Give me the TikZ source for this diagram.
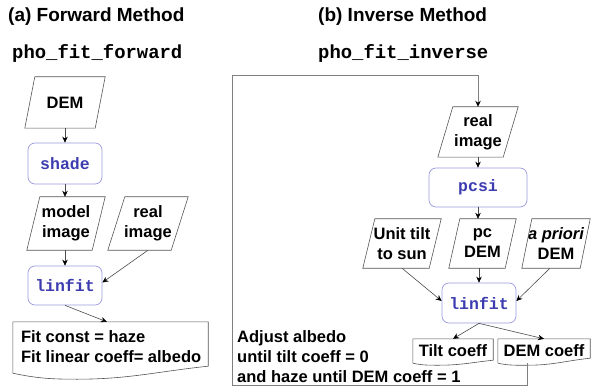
\documentclass[tikz,border=0pt]{standalone}
\usepackage{fontspec}
\setmainfont{Liberation Sans}
\setmonofont{Liberation Mono}
\usetikzlibrary{arrows.meta,calc}
\definecolor{procblue}{HTML}{3C3CB0}
\definecolor{boxblue}{HTML}{9A9AE0}
\definecolor{shapegray}{HTML}{555555}
\definecolor{loopgray}{HTML}{808080}
\newcommand\pgram[2]{\draw[shapeline] ($(#1.north west)+(#2,0)$) -- (#1.north east) -- ($(#1.south east)+(-#2,0)$) -- (#1.south west) -- cycle;}
\newcommand\docshape[3]{\draw[shapeline] (#1.south west) -- (#1.north west) -- (#1.north east) -- ($(#1.south east)+(0,-#2)$) to[out=186,in=0] ($(#1.south west)!0.33!(#1.south east)+(0,#3)$) to[out=180,in=-12] (#1.south west);}
\tikzset{
  txt/.style={font=\bfseries\fontsize{16.5}{20}\selectfont, align=center, inner sep=0pt},
  iobox/.style={txt, minimum width=#1},
  procbox/.style={draw=boxblue, line width=0.7pt, rounded corners=7pt, text=procblue,
     font=\ttfamily\bfseries\fontsize{16.5}{20}\selectfont, inner sep=0pt, minimum height=40pt, minimum width=#1},
  shapeline/.style={draw=shapegray, line width=0.6pt},
  arr/.style={draw=black!70, line width=0.6pt, -{Stealth[length=6pt,width=5.5pt,color=black]}},
  loopline/.style={draw=loopgray, line width=1pt, -{Stealth[length=6pt,width=5.5pt,color=black]}},
  title/.style={font=\bfseries\fontsize{19}{22}\selectfont, inner sep=0pt, anchor=west},
  fname/.style={font=\ttfamily\bfseries\fontsize{18.9}{22}\selectfont, inner sep=0pt, anchor=west},
  doctext/.style={font=\bfseries\fontsize{16.5}{20}\selectfont, align=left, inner sep=0pt}
}
\begin{document}
\begin{tikzpicture}[x=1pt,y=-1pt]
\useasboundingbox (0,0) rectangle (591,387);
% titles
\node[title] (ta) at (8,17) {(a) Forward Method};
\node[title] (tb) at (318,17) {(b) Inverse Method};
\node[fname] (fa) at (12,53) {pho\_fit\_forward};
\node[fname] (fb) at (318,53) {pho\_fit\_inverse};
% ---------- forward ----------
\node[iobox=80pt, minimum height=51pt] (dem) at (65,102.5) {DEM};
\pgram{dem}{10}
\node[procbox=74pt, minimum height=41pt] (shade) at (65,163.5) {shade};
\node[iobox=78pt, minimum height=53pt] (model) at (66,223.5) {model\\image};
\pgram{model}{13}
\node[iobox=80pt, minimum height=53pt] (realf) at (148,223.5) {real\\image};
\pgram{realf}{17}
\node[procbox=74pt, minimum height=39pt] (linfitf) at (65,285.5) {linfit};
\node[minimum width=195pt, minimum height=51pt, inner sep=0pt] (fitdoc) at (110.5,347.5) {};
\node[doctext, anchor=west] (fittext) at ($(fitdoc.west)+(8,-0.5)$) {Fit const = haze\\Fit linear coeff= albedo};
\docshape{fitdoc}{7}{6}
\draw[arr] (dem.south) -- (shade.north);
\draw[arr] (shade.south) -- (shade.south |- model.north);
\draw[arr] (linfitf.north |- model.south) -- (linfitf.north);
\draw[arr] (realf.south) -- ($(linfitf.east)+(0,-3)$);
\draw[arr] (linfitf.south) -- ($(fitdoc.north west)+(94,0)$);
% ---------- inverse ----------
\node[iobox=80pt, minimum height=50pt] (realimg) at (478,132) {real\\image};
\pgram{realimg}{15}
\node[procbox=98pt, minimum height=39pt] (pcsi) at (478,187.5) {pcsi};
\node[iobox=78pt, minimum height=49pt] (unittilt) at (402,243.5) {Unit tilt\\to sun};
\pgram{unittilt}{12}
\node[iobox=67pt, minimum height=49pt] (pcdem) at (482.5,243.5) {pc\\DEM};
\pgram{pcdem}{11}
\node[iobox=68pt, minimum height=49pt] (apriori) at (556,243.5) {\itshape a priori\\DEM};
\pgram{apriori}{10}
\node[procbox=74pt, minimum height=40pt] (linfiti) at (479,303) {linfit};
\node[txt, minimum width=80pt, minimum height=24pt] (tiltc) at (453,351) {Tilt coeff};
\docshape{tiltc}{3}{2}
\node[txt, minimum width=92pt, minimum height=24pt] (demc) at (544,351) {DEM coeff};
\docshape{demc}{5}{2}
\node[doctext, anchor=west] (adjust) at (237,357) {Adjust albedo\\until tilt coeff = 0\\and haze until DEM coeff = 1};
\draw[arr] (pcsi.north |- realimg.south) -- (pcsi.north);
\draw[arr] (pcsi.south) -- (pcsi.south |- pcdem.north);
\draw[arr] (unittilt.south) -- ($(linfiti.west)+(0,-2)$);
\draw[arr] (linfiti.north |- pcdem.south) -- (linfiti.north);
\draw[arr] ($(apriori.south)+(-6,0)$) -- ($(linfiti.east)+(0,-2)$);
\draw[arr] (linfiti.south) -- (tiltc.north);
\draw[arr] (linfiti.south) -- (demc.north);
\coordinate (loopbl) at (232,385);
\coordinate (looptl) at (232,76);
\draw[loopline] ($(demc.south west)+(30,0)$) |- (loopbl) -- (looptl) -| (realimg.north);
\end{tikzpicture}
\end{document}
